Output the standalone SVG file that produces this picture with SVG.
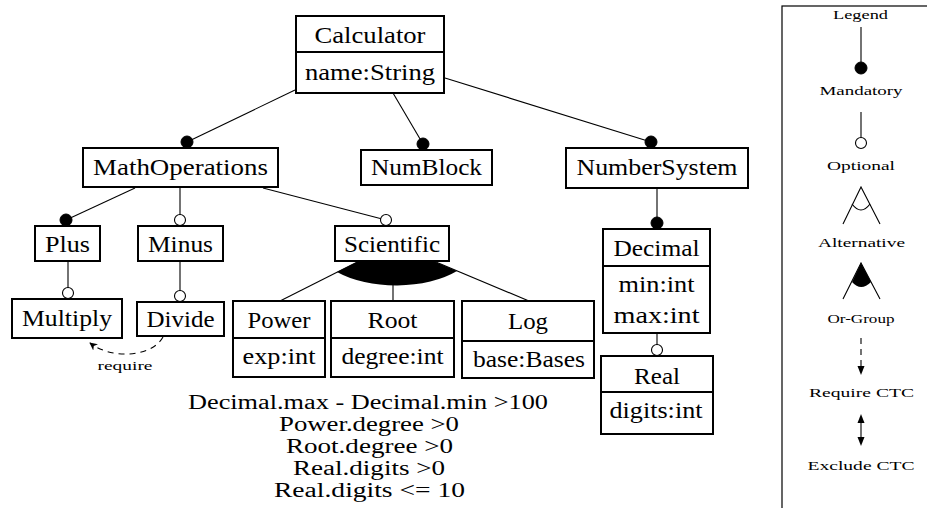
<svg xmlns="http://www.w3.org/2000/svg" width="927" height="508" viewBox="0 0 927 508">
<defs>
<style>
.box{fill:#fff;stroke:#000;stroke-width:2}
.div{stroke:#000;stroke-width:2}
.ln{stroke:#000;stroke-width:1.1;fill:none}
.man{fill:#000;stroke:#000;stroke-width:1}
.opt{fill:#fff;stroke:#000;stroke-width:1.1}
.dash{stroke:#000;stroke-width:1.1;fill:none;stroke-dasharray:6 5}
</style>
<marker id="arr" viewBox="0 0 10 10" refX="9" refY="5" markerWidth="8" markerHeight="8" orient="auto" markerUnits="userSpaceOnUse">
<path d="M0,0 L10,5 L0,10 L3,5 Z" fill="#000"/>
</marker>
</defs>

<g id="connectors">
<line class="ln" x1="295" y1="90" x2="187" y2="142"/>
<line class="ln" x1="393" y1="93" x2="423" y2="144"/>
<line class="ln" x1="445" y1="78" x2="651" y2="142"/>
<line class="ln" x1="135" y1="188" x2="66" y2="220"/>
<line class="ln" x1="180" y1="188" x2="180" y2="220"/>
<line class="ln" x1="263" y1="188" x2="386" y2="220"/>
<line class="ln" x1="68" y1="261" x2="68" y2="293"/>
<line class="ln" x1="180" y1="261" x2="180" y2="296"/>
<line class="ln" x1="657" y1="188" x2="657" y2="223"/>
<line class="ln" x1="657" y1="333" x2="657" y2="350"/>
<line class="ln" x1="393" y1="244" x2="280" y2="301"/>
<line class="ln" x1="393" y1="244" x2="393" y2="301"/>
<line class="ln" x1="393" y1="244" x2="529" y2="301"/>
<path d="M393,244 L337,272 A80 41 0 0 0 457,271 Z" fill="#000"/>
<path class="dash" d="M163,337 C152,357 112,360 90,343" marker-end="url(#arr)"/>
<text font-family="Liberation Serif" font-size="12" text-anchor="middle" x="125" y="370" textLength="55" lengthAdjust="spacingAndGlyphs">require</text>
<circle class="man" cx="187" cy="142" r="6"/>
<circle class="man" cx="423" cy="144" r="6"/>
<circle class="man" cx="651" cy="142" r="6"/>
<circle class="man" cx="66" cy="220" r="6"/>
<circle class="opt" cx="180" cy="220" r="5.5"/>
<circle class="opt" cx="386" cy="220" r="5.5"/>
<circle class="opt" cx="68" cy="293" r="5.5"/>
<circle class="opt" cx="180" cy="296" r="5.5"/>
<circle class="man" cx="657" cy="223" r="6"/>
<circle class="opt" cx="657" cy="350" r="5.5"/>
</g>

<g id="Calculator">
<rect class="box" x="296" y="16" width="148" height="77"/>
<line class="div" x1="296" y1="52" x2="444" y2="52"/>
<text font-family="Liberation Serif" font-size="24" text-anchor="middle" x="370" y="43" textLength="111" lengthAdjust="spacingAndGlyphs">Calculator</text>
<text font-family="Liberation Serif" font-size="24" text-anchor="middle" x="370" y="80" textLength="130" lengthAdjust="spacingAndGlyphs">name:String</text>
</g>
<g id="MathOperations">
<rect class="box" x="83" y="148" width="195" height="39"/>
<text font-family="Liberation Serif" font-size="24" text-anchor="middle" x="180.5" y="175" textLength="175" lengthAdjust="spacingAndGlyphs">MathOperations</text>
</g>
<g id="NumBlock">
<rect class="box" x="361" y="150" width="131" height="35"/>
<text font-family="Liberation Serif" font-size="24" text-anchor="middle" x="426.5" y="175" textLength="111" lengthAdjust="spacingAndGlyphs">NumBlock</text>
</g>
<g id="NumberSystem">
<rect class="box" x="566" y="148" width="182" height="40"/>
<text font-family="Liberation Serif" font-size="24" text-anchor="middle" x="657" y="175" textLength="161" lengthAdjust="spacingAndGlyphs">NumberSystem</text>
</g>
<g id="Plus">
<rect class="box" x="35" y="226" width="65" height="35"/>
<text font-family="Liberation Serif" font-size="24" text-anchor="middle" x="67.5" y="252" textLength="45" lengthAdjust="spacingAndGlyphs">Plus</text>
</g>
<g id="Minus">
<rect class="box" x="138" y="226" width="85" height="35"/>
<text font-family="Liberation Serif" font-size="24" text-anchor="middle" x="180.5" y="252" textLength="65" lengthAdjust="spacingAndGlyphs">Minus</text>
</g>
<g id="Scientific">
<rect class="box" x="335" y="226" width="114" height="35"/>
<text font-family="Liberation Serif" font-size="24" text-anchor="middle" x="392" y="252" textLength="96" lengthAdjust="spacingAndGlyphs">Scientific</text>
</g>
<g id="Multiply">
<rect class="box" x="12" y="299" width="110" height="39"/>
<text font-family="Liberation Serif" font-size="24" text-anchor="middle" x="67" y="326" textLength="90" lengthAdjust="spacingAndGlyphs">Multiply</text>
</g>
<g id="Divide">
<rect class="box" x="137" y="302" width="87" height="34"/>
<text font-family="Liberation Serif" font-size="24" text-anchor="middle" x="180.5" y="327" textLength="68" lengthAdjust="spacingAndGlyphs">Divide</text>
</g>
<g id="Power">
<rect class="box" x="233" y="301" width="92" height="76"/>
<line class="div" x1="233" y1="338" x2="325" y2="338"/>
<text font-family="Liberation Serif" font-size="24" text-anchor="middle" x="279" y="328" textLength="63" lengthAdjust="spacingAndGlyphs">Power</text>
<text font-family="Liberation Serif" font-size="24" text-anchor="middle" x="279" y="364" textLength="73" lengthAdjust="spacingAndGlyphs">exp:int</text>
</g>
<g id="Root">
<rect class="box" x="331" y="301" width="123" height="76"/>
<line class="div" x1="331" y1="338" x2="454" y2="338"/>
<text font-family="Liberation Serif" font-size="24" text-anchor="middle" x="392.5" y="328" textLength="50" lengthAdjust="spacingAndGlyphs">Root</text>
<text font-family="Liberation Serif" font-size="24" text-anchor="middle" x="392.5" y="364" textLength="102" lengthAdjust="spacingAndGlyphs">degree:int</text>
</g>
<g id="Log">
<rect class="box" x="462" y="301" width="132" height="77"/>
<line class="div" x1="462" y1="341" x2="594" y2="341"/>
<text font-family="Liberation Serif" font-size="24" text-anchor="middle" x="528" y="329" textLength="40" lengthAdjust="spacingAndGlyphs">Log</text>
<text font-family="Liberation Serif" font-size="24" text-anchor="middle" x="529" y="367" textLength="112" lengthAdjust="spacingAndGlyphs">base:Bases</text>
</g>
<g id="Decimal">
<rect class="box" x="603" y="229" width="107" height="104"/>
<line class="div" x1="603" y1="266" x2="710" y2="266"/>
<text font-family="Liberation Serif" font-size="24" text-anchor="middle" x="656.5" y="256" textLength="86" lengthAdjust="spacingAndGlyphs">Decimal</text>
<text font-family="Liberation Serif" font-size="24" text-anchor="middle" x="656.5" y="292" textLength="76" lengthAdjust="spacingAndGlyphs">min:int</text>
<text font-family="Liberation Serif" font-size="24" text-anchor="middle" x="656.5" y="323" textLength="86" lengthAdjust="spacingAndGlyphs">max:int</text>
</g>
<g id="Real">
<rect class="box" x="601" y="356" width="112" height="78"/>
<line class="div" x1="601" y1="392" x2="713" y2="392"/>
<text font-family="Liberation Serif" font-size="24" text-anchor="middle" x="657" y="384" textLength="46" lengthAdjust="spacingAndGlyphs">Real</text>
<text font-family="Liberation Serif" font-size="24" text-anchor="middle" x="656" y="418" textLength="93" lengthAdjust="spacingAndGlyphs">digits:int</text>
</g>

<g id="constraints">
<text font-family="Liberation Serif" font-size="20" text-anchor="middle" x="368" y="409" textLength="360" lengthAdjust="spacingAndGlyphs">Decimal.max - Decimal.min &gt;100</text>
<text font-family="Liberation Serif" font-size="20" text-anchor="middle" x="369" y="431" textLength="180" lengthAdjust="spacingAndGlyphs">Power.degree &gt;0</text>
<text font-family="Liberation Serif" font-size="20" text-anchor="middle" x="369.5" y="453" textLength="167" lengthAdjust="spacingAndGlyphs">Root.degree &gt;0</text>
<text font-family="Liberation Serif" font-size="20" text-anchor="middle" x="369" y="475" textLength="152" lengthAdjust="spacingAndGlyphs">Real.digits &gt;0</text>
<text font-family="Liberation Serif" font-size="20" text-anchor="middle" x="369.5" y="497" textLength="191" lengthAdjust="spacingAndGlyphs">Real.digits &lt;= 10</text>
</g>

<g id="legend">
<rect x="782" y="6" width="200" height="560" fill="none" stroke="#000" stroke-width="1.2"/>
<text font-family="Liberation Serif" font-size="12" text-anchor="middle" x="860.5" y="19" textLength="55" lengthAdjust="spacingAndGlyphs">Legend</text>
<line class="ln" x1="861" y1="27" x2="861" y2="62"/>
<circle class="man" cx="861" cy="68" r="6"/>
<text font-family="Liberation Serif" font-size="12" text-anchor="middle" x="861" y="95" textLength="83" lengthAdjust="spacingAndGlyphs">Mandatory</text>
<line class="ln" x1="861" y1="112" x2="861" y2="137.5"/>
<circle class="opt" cx="861" cy="143" r="5.5"/>
<text font-family="Liberation Serif" font-size="12" text-anchor="middle" x="861" y="170" textLength="68" lengthAdjust="spacingAndGlyphs">Optional</text>
<path class="ln" d="M843,224 L861,187 L880,224"/>
<path class="ln" d="M852,204 Q861,216 870,204"/>
<text font-family="Liberation Serif" font-size="12" text-anchor="middle" x="861.5" y="247" textLength="87" lengthAdjust="spacingAndGlyphs">Alternative</text>
<path class="ln" d="M843,299 L861,263 L880,299"/>
<path d="M861,263 L852,282 Q861,292 871,282 Z" fill="#000"/>
<text font-family="Liberation Serif" font-size="12" text-anchor="middle" x="861" y="323" textLength="67" lengthAdjust="spacingAndGlyphs">Or-Group</text>
<line class="dash" x1="861" y1="338" x2="861" y2="368"/>
<path d="M857.5,366 L864.5,366 L861,375 Z" fill="#000"/>
<text font-family="Liberation Serif" font-size="12" text-anchor="middle" x="861.5" y="397" textLength="105" lengthAdjust="spacingAndGlyphs">Require CTC</text>
<line class="ln" x1="861" y1="420" x2="861" y2="440"/>
<path d="M857.5,423 L864.5,423 L861,414 Z" fill="#000"/>
<path d="M857.5,437 L864.5,437 L861,446 Z" fill="#000"/>
<text font-family="Liberation Serif" font-size="12" text-anchor="middle" x="861" y="470" textLength="107" lengthAdjust="spacingAndGlyphs">Exclude CTC</text>
</g>
</svg>
